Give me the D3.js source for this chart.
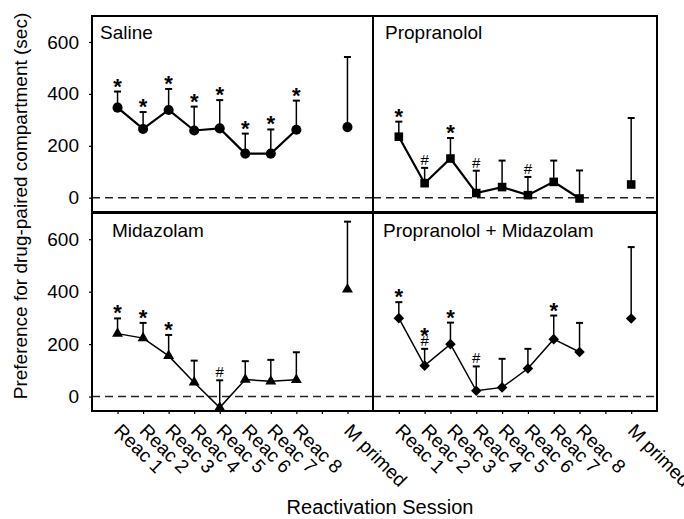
<!DOCTYPE html>
<html><head><meta charset="utf-8">
<script src="https://cdn.jsdelivr.net/npm/d3@7"></script>
<style>
body{margin:0;background:#fff}
text{font-family:"Liberation Sans",Arial,sans-serif;fill:#000}
</style>
</head><body>
<svg id="c" width="684" height="519"></svg>
<script>
// ---- data ----
const tickLabels = ["Reac 1","Reac 2","Reac 3","Reac 4","Reac 5","Reac 6","Reac 7","Reac 8","","M primed"];
const tickPositions = [1,2,3,4,5,6,7,8,9,10];
const dataPositions = [1,2,3,4,5,6,7,8,10];   // last entry = M primed
const yTicks = [0,200,400,600];

const salineMean = [347,265,338,259,267,170,170,262,272];
const salineSem  = [62,65,81,92,109,77,93,112,270];
const salineMarks = ["*","*","*","*","*","*","*","*",""];

const propMean = [235,56,151,18,41,10,61,-3,51];
const propSem  = [58,59,79,86,102,70,82,108,256];
const propMarks = ["*","#","*","#","","#","","",""];

const midaMean = [240,223,155,54,-42,65,58,64,409];
const midaSem  = [58,58,80,83,104,70,82,105,258];
const midaMarks = ["*","*","*","","#","","","",""];

const pmMean = [299,118,200,22,35,107,219,170,298];
const pmSem  = [61,64,82,93,109,75,90,111,272];
const pmMarks = ["*","*#","*","#","","","*","",""];

const panelNames = ["Saline","Propranolol","Midazolam","Propranolol + Midazolam"];

// ---- layout ----
const svg = d3.select("#c");
const colRanges = [[92,373],[373,657]];
const rowRanges = [[212,16],[411,213]];
const labelPos = [[100,39],[385,39],[112,237],[383,237]];

const panels = [
  {name:panelNames[0], mean:salineMean, sem:salineSem, marks:salineMarks, col:0,row:0, sym:"circle", lw:2.2},
  {name:panelNames[1], mean:propMean, sem:propSem, marks:propMarks, col:1,row:0, sym:"square", lw:2.2},
  {name:panelNames[2], mean:midaMean, sem:midaSem, marks:midaMarks, col:0,row:1, sym:"triangle", lw:1.5},
  {name:panelNames[3], mean:pmMean, sem:pmSem, marks:pmMarks, col:1,row:1, sym:"diamond", lw:1.5},
];

function symbolPath(kind){
  if(kind==="circle") return d3.symbol().type(d3.symbolCircle).size(80)();
  if(kind==="square") return d3.symbol().type(d3.symbolSquare).size(74)();
  if(kind==="triangle") return d3.symbol().type(d3.symbolTriangle).size(52)();
  return d3.symbol().type(d3.symbolSquare).size(56)();
}

function star(g, x, y){
  g.append("text").attr("x",x).attr("y",y).attr("text-anchor","middle")
    .style("font-size","22px").style("font-weight","bold").text("*");
}
function hash(g, x, y){
  g.append("text").attr("x",x).attr("y",y).attr("text-anchor","middle")
    .style("font-size","15px").text("#");
}
function starHash(g, x, y){
  // one text element: star stacked above hash
  const t = g.append("text").attr("text-anchor","middle");
  t.append("tspan").attr("x",x).attr("y",y-6)
    .style("font-size","22px").style("font-weight","bold").text("*");
  t.append("tspan").attr("x",x).attr("y",y-3)
    .style("font-size","15px").text("#");
}

panels.forEach((p,pi)=>{
  const x = d3.scaleLinear().domain([0,11]).range(colRanges[p.col]);
  const y = d3.scaleLinear().domain([-55,700]).range(rowRanges[p.row]);
  const g = svg.append("g");
  const pts = p.mean.map((m,i)=>({x:dataPositions[i], m, top:m+p.sem[i], mark:p.marks[i]}));

  // zero line
  g.append("line").attr("x1",x(0)).attr("x2",x(11)).attr("y1",y(0)).attr("y2",y(0))
    .attr("stroke","#222").attr("stroke-width",1.5).attr("stroke-dasharray","8,5");

  // connecting line (reactivations only)
  g.append("path").datum(pts.slice(0,8))
    .attr("d", d3.line().x(d=>x(d.x)).y(d=>y(d.m)))
    .attr("fill","none").attr("stroke","#000").attr("stroke-width",p.lw);

  // error bars (upper only)
  pts.forEach(d=>{
    g.append("line").attr("x1",x(d.x)).attr("x2",x(d.x)).attr("y1",y(d.m)).attr("y2",y(d.top))
      .attr("stroke","#000").attr("stroke-width",1.5);
    g.append("line").attr("x1",x(d.x)-3.5).attr("x2",x(d.x)+3.5).attr("y1",y(d.top)).attr("y2",y(d.top))
      .attr("stroke","#000").attr("stroke-width",2);
  });

  // markers
  g.selectAll("path.m").data(pts).enter().append("path").attr("class","m")
    .attr("d", symbolPath(p.sym))
    .attr("transform", d=>`translate(${x(d.x)},${y(d.m)})${p.sym==="diamond"?" rotate(45)":""}`)
    .attr("fill","#000");

  // significance marks
  pts.forEach(d=>{
    if(!d.mark) return;
    const ty = y(d.top), tx = x(d.x);
    if(d.mark==="*") star(g, tx, ty+2);
    else if(d.mark==="#") hash(g, tx, ty-3);
    else starHash(g, tx, ty);
  });

  // panel title
  g.append("text").attr("x",labelPos[pi][0]).attr("y",labelPos[pi][1])
    .style("font-size","19px").text(p.name);

  // y axis on left column
  if(p.col===0){
    const ax = g.append("g").attr("transform",`translate(${colRanges[0][0]},0)`)
      .call(d3.axisLeft(y).tickValues(yTicks).tickSize(3).tickPadding(10).tickFormat(d3.format("d")));
    ax.select(".domain").remove();
    ax.selectAll("line").attr("stroke","#000").attr("stroke-width",1.2);
    ax.selectAll("text").style("font-size","19px").attr("font-family",null);
  }

  // x axis on bottom row
  if(p.row===1){
    const ax = g.append("g").attr("transform",`translate(0,${rowRanges[1][0]})`)
      .call(d3.axisBottom(x).tickValues(tickPositions).tickSize(3).tickFormat((d,i)=>tickLabels[i]));
    ax.select(".domain").remove();
    ax.selectAll("line").attr("stroke","#000").attr("stroke-width",1.2);
    ax.selectAll("text").style("font-size","19px").attr("font-family",null)
      .attr("text-anchor","start").attr("dy",null).attr("x",0).attr("y",0)
      .attr("transform","translate(-5,21) rotate(45)");
  }

  // frame
  g.append("rect").attr("x",colRanges[p.col][0]).attr("y",rowRanges[p.row][1])
    .attr("width",colRanges[p.col][1]-colRanges[p.col][0])
    .attr("height",rowRanges[p.row][0]-rowRanges[p.row][1])
    .attr("fill","none").attr("stroke","#000").attr("stroke-width",2);
});

// axis titles
svg.append("text").attr("transform","translate(27,206) rotate(-90)").attr("text-anchor","middle")
  .style("font-size","19px").text("Preference for drug-paired compartment (sec)");
svg.append("text").attr("x",380).attr("y",514).attr("text-anchor","middle")
  .style("font-size","20px").text("Reactivation Session");
</script>
</body></html>
